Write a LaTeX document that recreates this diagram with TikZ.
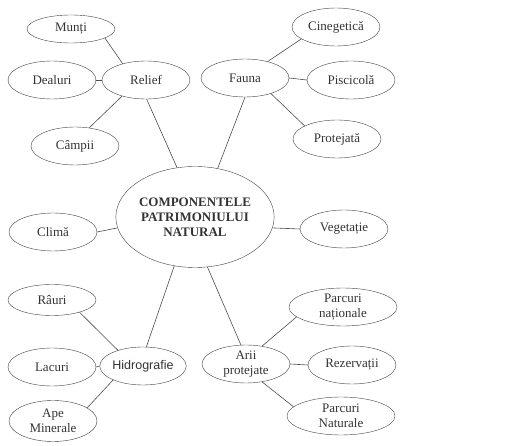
\documentclass[tikz,border=0pt]{standalone}
\usepackage{fontspec}
\setmainfont{Liberation Serif}
\setsansfont{Liberation Sans}
\usetikzlibrary{shapes.geometric,positioning}

\begin{document}
\begin{tikzpicture}[
    x=1pt, y=1pt,
    leaf/.style={draw=black!75, ellipse, minimum width=88pt, minimum height=38pt, inner sep=0pt, align=center, text=black!80, font=\fontsize{13}{14.5}\selectfont},
    wide/.style={leaf, minimum width=108pt},
    hub/.style={leaf, minimum width=155pt, minimum height=101pt, font=\fontsize{13}{15}\selectfont\bfseries},
    link/.style={draw=black!70, line width=0.6pt}
]
    \useasboundingbox (0,0) rectangle (512,-446);

    % centre
    \node[hub] (comp) at (195,-217) {COMPONENTELE\\PATRIMONIULUI\\NATURAL};

    % relief
    \node[leaf] (relief) at (146,-80) {Relief};
    \node[leaf, minimum height=28pt] (munti) at (71,-29) {Munți};
    \node[leaf] (dealuri) at (52,-80) {Dealuri};
    \node[leaf] (campii) at (75,-146) {Câmpii};

    % fauna
    \node[leaf] (fauna) at (245,-78) {Fauna};
    \node[leaf] (cinegetica) at (336,-27) {Cinegetică};
    \node[leaf] (piscicola) at (351,-80) {Piscicolă};
    \node[leaf] (protejata) at (337,-139) {Protejată};

    \node[leaf] (clima) at (53,-232) {Climă};
    \node[leaf] (vegetatie) at (344,-229) {Vegetație};

    % hidrografie
    \node[leaf, minimum width=82pt, font=\fontsize{12.5}{14}\sffamily] (hidro) at (143,-366) {Hidrografie};
    \node[leaf, minimum height=31pt] (rauri) at (52,-300) {Râuri};
    \node[leaf] (lacuri) at (52,-367) {Lacuri};
    \node[leaf, minimum height=41pt] (ape) at (53,-421) {Ape\\Minerale};

    % arii protejate
    \node[leaf] (arii) at (246,-364) {Arii\\protejate};
    \node[wide] (pnat) at (343,-307) {Parcuri\\naționale};
    \node[leaf] (rezervatii) at (352,-365) {Rezervații};
    \node[wide] (pnaturale) at (341,-416) {Parcuri\\Naturale};

    \draw[link] (relief.-88) -- (comp.110);
    \draw[link] (fauna.south) -- (comp.65);
    \draw[link] (comp.188) -- (clima.east);
    \draw[link] (comp.-8) -- (vegetatie.west);
    \draw[link] (comp.247) -- (hidro.80);
    \draw[link] (comp.-76) -- (arii.105);

    \draw[link] (relief.145) -- (munti.-15);
    \draw[link] (relief.west) -- (dealuri.east);
    \draw[link] (relief.214) -- (campii.52);

    \draw[link] (fauna.36) -- (cinegetica.199);
    \draw[link] (fauna.east) -- (piscicola.west);
    \draw[link] (fauna.-31) -- (protejata.158);

    \draw[link] (hidro.148) -- (rauri.-24);
    \draw[link] (hidro.west) -- (lacuri.east);
    \draw[link] (hidro.205) -- (ape.21);

    \draw[link] (arii.48) -- (pnat.192);
    \draw[link] (arii.east) -- (rezervatii.west);
    \draw[link] (arii.-48) -- (pnaturale.169);
\end{tikzpicture}
\end{document}
